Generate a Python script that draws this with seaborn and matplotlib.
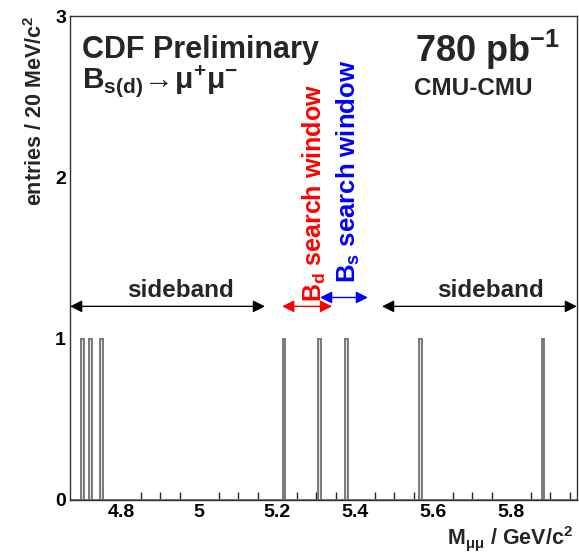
import numpy as np
import matplotlib
matplotlib.use("Agg")
import matplotlib.pyplot as plt
import seaborn as sns

# candidate dimuon masses (GeV/c^2), one entry each
masses = [4.698, 4.720, 4.749, 5.221, 5.307, 5.377, 5.567, 5.881]

x_range = (4.669, 5.969)
sideband_lo = (4.669, 5.169)
sideband_hi = (5.469, 5.969)
bd_window = (5.213, 5.341)
bs_window = (5.310, 5.433)

sns.set_style("white")
plt.rcParams['font.family'] = ['Liberation Sans', 'DejaVu Sans']
plt.rcParams['font.weight'] = 'bold'
plt.rcParams['mathtext.fontset'] = 'custom'
plt.rcParams['mathtext.rm'] = 'Liberation Sans:bold'
plt.rcParams['mathtext.bf'] = 'Liberation Sans:bold'
plt.rcParams['mathtext.it'] = 'Liberation Sans:bold'

fig = plt.figure(figsize=(5.79, 5.53), dpi=100)
ax = fig.add_axes([0.121, 0.096, 0.8755, 0.875])

sns.histplot(x=masses, binwidth=0.007, binrange=x_range, ax=ax,
             fill=True, facecolor='#e4e4e4', edgecolor='#707070', linewidth=1.3)

ax.set_xlim(*x_range)
ax.set_ylim(0, 3)
ax.set_xticks([4.8, 5.0, 5.2, 5.4, 5.6, 5.8])
ax.set_xticklabels(['4.8', '5', '5.2', '5.4', '5.6', '5.8'])
ax.set_xticks(np.arange(4.70, 5.96, 0.05), minor=True)
ax.set_yticks([0, 1, 2, 3])
ax.tick_params(axis='both', which='major', direction='in', length=11, width=1,
               labelsize=14, colors='black', pad=3)
ax.tick_params(axis='x', which='minor', direction='in', length=5.5, width=1,
               bottom=True)
for lbl in ax.get_xticklabels() + ax.get_yticklabels():
    lbl.set_fontweight('bold')
for s in ax.spines.values():
    s.set_color('#333333')
    s.set_linewidth(1)

ax.set_ylabel('entries / 20 MeV/c$^{2}$', fontsize=15.5, fontweight='bold',
              loc='top', labelpad=6)
ax.set_xlabel(r'M$_{\mu\mu}$ / GeV/c$^{2}$', fontsize=15.5, fontweight='bold',
              ha='right')
ax.xaxis.set_label_coords(0.993, -0.05)

# text block
ax.text(0.024, 0.93, 'CDF Preliminary', transform=ax.transAxes,
        fontsize=22, fontweight='bold', va='center', ha='left')
ax.text(0.024, 0.866, r'B$_{\mathregular{s(d)}}$$\!\rightarrow\!$$\mathregular{\mu^{+}\mu^{-}}$',
        transform=ax.transAxes, fontsize=21.5, fontweight='bold', va='center', ha='left')
ax.text(0.68, 0.93, '780 pb$^{-1}$', transform=ax.transAxes,
        fontsize=26, fontweight='bold', va='center', ha='left')
ax.text(0.678, 0.851, 'CMU-CMU', transform=ax.transAxes,
        fontsize=17.5, fontweight='bold', va='center', ha='left')

# sideband arrows
arr = dict(arrowstyle='<|-|>', color='black', lw=1, mutation_scale=18,
           shrinkA=0, shrinkB=0)
ax.annotate('', xy=(sideband_lo[0], 1.2), xytext=(sideband_lo[1], 1.2), arrowprops=arr)
ax.annotate('', xy=(sideband_hi[0], 1.2), xytext=(sideband_hi[1], 1.2), arrowprops=arr)
ax.text(4.951, 1.30, 'sideband', fontsize=17.5,
        fontweight='bold', ha='center', va='center')
ax.text(5.746, 1.30, 'sideband', fontsize=17.5,
        fontweight='bold', ha='center', va='center')

# search window arrows
arr_r = dict(arr, color='red')
arr_b = dict(arr, color='blue')
ax.annotate('', xy=(bd_window[0], 1.2), xytext=(bd_window[1], 1.2), arrowprops=arr_r)
ax.annotate('', xy=(bs_window[0], 1.255), xytext=(bs_window[1], 1.255), arrowprops=arr_b)
ax.text(5.295, 1.225, r'B$_{\mathregular{d}}$ search window', color='red',
        fontsize=18, fontweight='bold', rotation=90, ha='center', va='bottom')
ax.text(5.382, 1.345, r'B$_{\mathregular{s}}$ search window', color='blue',
        fontsize=18.5, fontweight='bold', rotation=90, ha='center', va='bottom')

fig.savefig('out.png', dpi=100)
